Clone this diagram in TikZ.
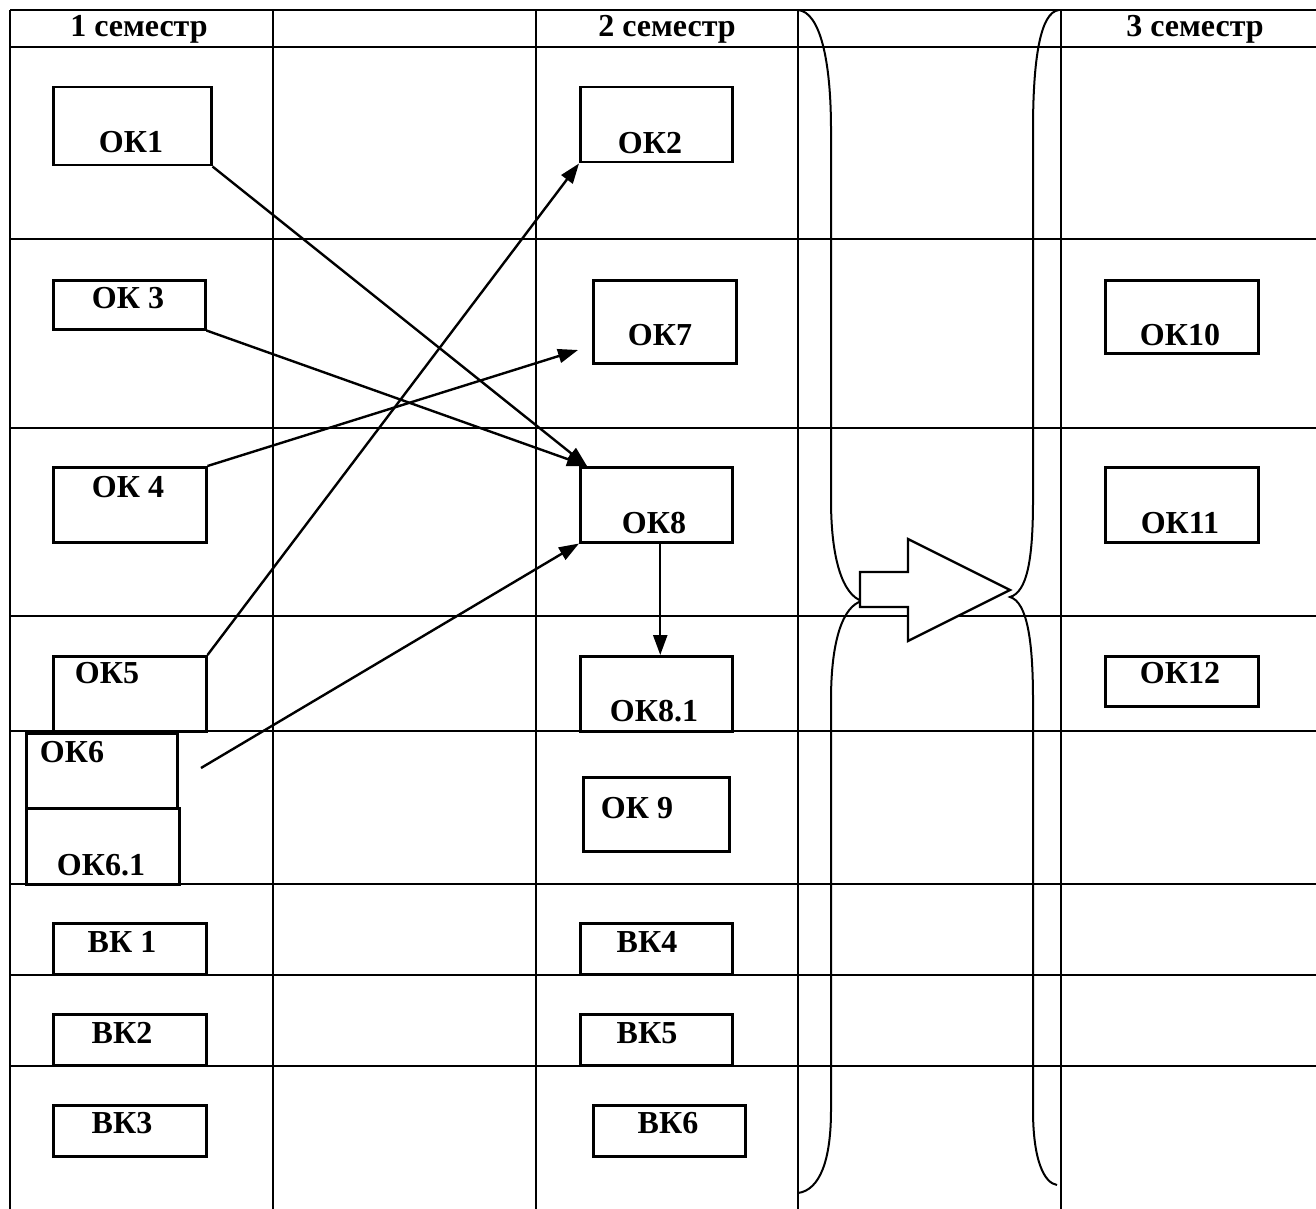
\documentclass[tikz,border=0pt]{standalone}
\usepackage{fontspec}
\setmainfont{Liberation Serif}
\usetikzlibrary{arrows.meta,calc}
\tikzset{
  grid/.style={line width=2.5pt},
  box/.style={draw, line width=2.5pt, inner sep=0pt, anchor=north west},
  txt/.style={inner sep=0pt, anchor=base, font=\bfseries\fontsize{32}{38}\selectfont},
  conn/.style={line width=2.4pt, -{Triangle[length=20pt,width=14pt]}},
  brace/.style={line width=2pt},
  bigarrow/.style={draw, fill=white, line width=2.4pt, line join=miter}
}
\newcommand{\bx}[5]{\node[box, minimum width=#4pt, minimum height=#5pt] (#1) at (#2,#3) {};}
\begin{document}
\begin{tikzpicture}[x=1pt,y=-1pt]
\useasboundingbox (0,0) rectangle (1316,1209);
% table grid
\foreach \yy in {10,47,239,428,616,731,884,975,1066}
  \draw[grid] (10,\yy) -- (1316,\yy);
\foreach \xx in {10,273,536,798,1061}
  \draw[grid] (\xx,10) -- (\xx,1209);
% headers
\node[txt] (h1) at (139,37) {1 семестр};
\node[txt] (h2) at (667,37) {2 семестр};
\node[txt] (h3) at (1195,37) {3 семестр};
% boxes
\bx{ok1}{52}{86}{158}{78}
\bx{ok2}{579}{86}{152}{75}
\bx{ok3}{52}{279}{152}{49}
\bx{ok7}{592}{279}{143}{83}
\bx{ok10}{1104}{279}{153}{73}
\bx{ok4}{52}{466}{153}{75}
\bx{ok8}{579}{466}{152}{75}
\bx{ok11}{1104}{466}{153}{75}
\bx{ok5}{52}{655}{153}{75}
\bx{ok81}{579}{655}{152}{75}
\bx{ok12}{1104}{655}{153}{50}
\bx{ok6}{25}{732}{151}{75}
\bx{ok61}{25}{807}{153}{76}
\bx{ok9}{582}{776}{146}{74}
\bx{vk1}{52}{922}{153}{51}
\bx{vk4}{579}{922}{152}{51}
\bx{vk2}{52}{1013}{153}{51}
\bx{vk5}{579}{1013}{152}{51}
\bx{vk3}{52}{1104}{153}{51}
\bx{vk6}{592}{1104}{152}{51}
% labels
\node[txt] (tok1) at (131,153) {ОК1};
\node[txt] (tok2) at (650,154) {ОК2};
\node[txt] (tok3) at (128,308) {ОК 3};
\node[txt] (tok7) at (660,345) {ОК7};
\node[txt] (tok10) at (1180,345) {ОК10};
\node[txt] (tok4) at (128,497) {ОК 4};
\node[txt] (tok8) at (654,533) {ОК8};
\node[txt] (tok11) at (1180,533) {ОК11};
\node[txt] (tok5) at (107,683) {ОК5};
\node[txt] (tok81) at (654,721) {ОК8.1};
\node[txt] (tok12) at (1180,683) {ОК12};
\node[txt] (tok6) at (72,762) {ОК6};
\node[txt] (tok61) at (101,875) {ОК6.1};
\node[txt] (tok9) at (637,818) {ОК 9};
\node[txt] (tvk1) at (122,952) {ВК 1};
\node[txt] (tvk4) at (647,952) {ВК4};
\node[txt] (tvk2) at (122,1043) {ВК2};
\node[txt] (tvk5) at (647,1043) {ВК5};
\node[txt] (tvk3) at (122,1133) {ВК3};
\node[txt] (tvk6) at (668,1133) {ВК6};
% connectors
\coordinate (ok8in) at ($(ok8.north west)+(8,0)$);
\coordinate (ok7in) at (578,350);
\coordinate (ok6out) at (201,768);
\draw[conn] (ok1.south east) -- (ok8in);
\draw[conn] (ok3.south east) -- (ok8in);
\draw[conn] (ok4.north east) -- (ok7in);
\draw[conn] (ok5.north east) -- (ok2.south west);
\draw[conn] (ok6out) -- (ok8.south west);
\draw[conn] ($(ok8.south)+(4,0)$) -- ($(ok81.north)+(4,0)$);
% braces
\draw[brace] (798,10) .. controls (820,12) and (831,60) .. (831,130) -- (831,500)
  .. controls (831,560) and (843,595) .. (862,601)
  .. controls (843,606) and (831,640) .. (831,700) -- (831,1110)
  .. controls (831,1160) and (820,1190) .. (798,1193);
\draw[brace] (1059,10) .. controls (1040,12) and (1033,60) .. (1033,130) -- (1033,500)
  .. controls (1033,560) and (1027,592) .. (1010,597)
  .. controls (1027,602) and (1033,640) .. (1033,700) -- (1033,1110)
  .. controls (1033,1160) and (1044,1183) .. (1057,1185);
% big arrow
\draw[bigarrow] (860,572) -- (908,572) -- (908,539) -- (1010,590) -- (908,641) -- (908,607) -- (860,607) -- cycle;
\end{tikzpicture}
\end{document}
